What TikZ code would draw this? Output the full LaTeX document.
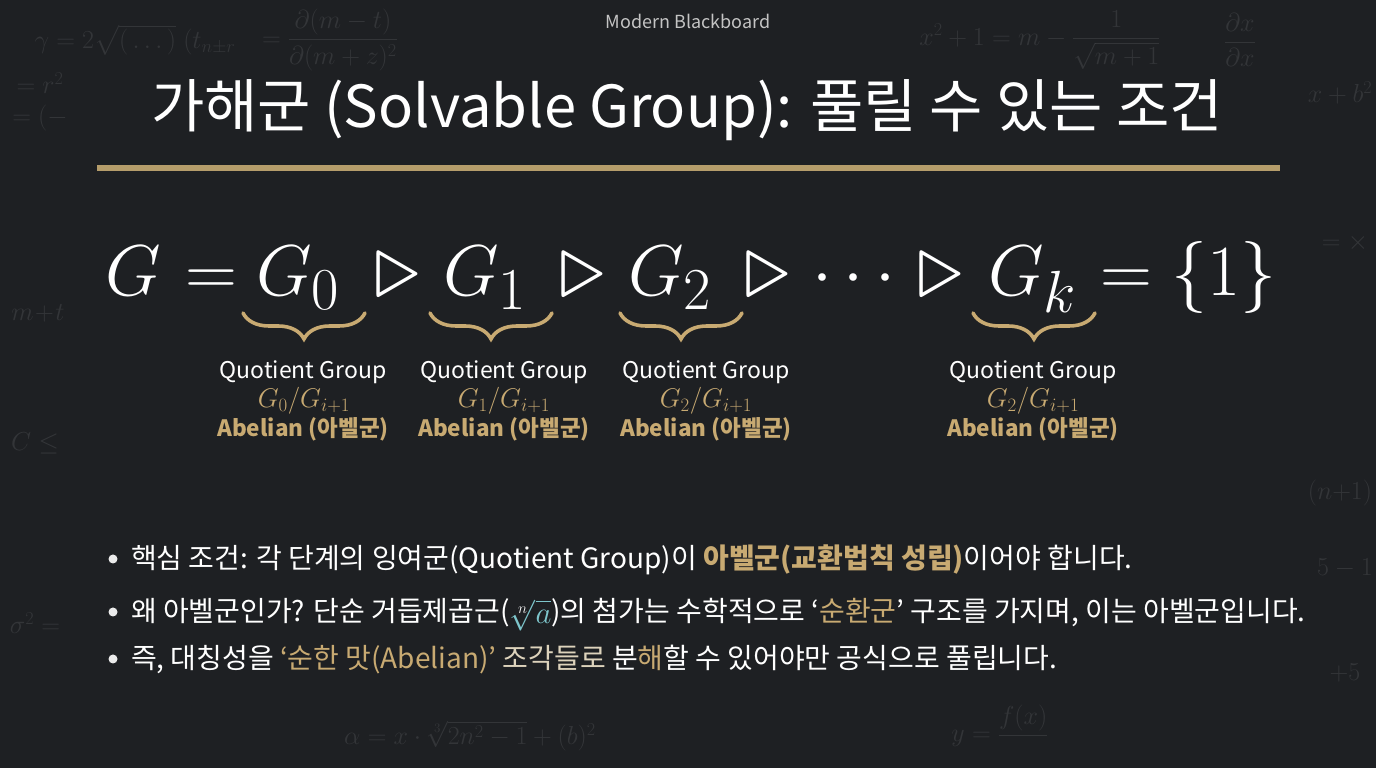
\RequirePackage{fix-cm}
\documentclass[tikz,border=0pt]{standalone}
\usepackage{amsmath}
\usepackage{graphicx}
\usepackage{fontspec}
\setmainfont{Noto Sans CJK KR}
\newfontfamily\kr{Noto Sans CJK KR}
\usetikzlibrary{decorations.pathreplacing,calc}
\definecolor{bg}{HTML}{1E2023}
\definecolor{tan}{HTML}{C8AA72}
\definecolor{gold}{HTML}{B59D6B}
\definecolor{beige}{HTML}{DDD3BC}
\definecolor{tealc}{HTML}{7EC6CC}
\definecolor{hdrgray}{HTML}{C4C4C4}
\definecolor{chalk}{HTML}{8A8C90}
\newcommand{\bigsub}[1]{\scalebox{1.18}{$\scriptstyle #1$}}
\newcommand{\bigtri}{\raisebox{-2pt}{\scalebox{1.3}{$\triangleright$}}}
\begin{document}
\begin{tikzpicture}[x=1pt,y=1pt,
  every node/.style={inner sep=0pt, outer sep=0pt},
  eqpart/.style={anchor=base west, text=white, font=\fontsize{72}{80}\selectfont},
  bracemark/.style={draw=tan, line width=3.6pt, line cap=round, decorate,
    decoration={brace, mirror, amplitude=26pt}},
  qlabel/.style={text=white, font=\kr\fontsize{23}{26}\selectfont},
  mlabel/.style={text=tan, font=\fontsize{27}{30}\selectfont},
  alabel/.style={text=tan, font=\kr\bfseries\fontsize{22.5}{26}\selectfont},
  btext/.style={anchor=base west, text=white, font=\kr\fontsize{28}{32}\selectfont},
  bdot/.style={circle, fill=white!92!black, minimum size=9pt},
  chalkmark/.style={text=chalk, opacity=0.2, font=\fontsize{26}{30}\selectfont},
]
\fill[bg] (0,0) rectangle (1376,768);
\useasboundingbox (0,0) rectangle (1376,768);

% faint chalk texture
\node[chalkmark] (c1) at (135,728) {$\gamma=2\sqrt{(\,\ldots\,)}\;(t_{n\pm r}$};
\node[chalkmark] (c2) at (330,728) {$=\dfrac{\partial(m-t)}{\partial(m+z)^2}$};
\node[chalkmark] (c3) at (1040,728) {$x^2+1=m-\dfrac{1}{\sqrt{m+1}}$};
\node[chalkmark] (c4) at (1240,728) {$\dfrac{\partial x}{\partial x}$};
\node[chalkmark] (c5) at (470,32) {$\alpha=x\cdot\sqrt[3]{2n^2-1}+(b)^2$};
\node[chalkmark] (c6) at (1000,36) {$y=\dfrac{f(x)}{\phantom{xx}}$};
\node[chalkmark] (c7) at (40,685) {$=r^2$};
\node[chalkmark] (c8) at (40,650) {$=(-$};
\node[chalkmark] (c9) at (38,455) {$m\!+\!t$};
\node[chalkmark] (c10) at (35,325) {$C\leq$};
\node[chalkmark] (c11) at (35,145) {$\sigma^2=$};
\node[chalkmark] (c12) at (1345,525) {$=\times$};
\node[chalkmark] (c13) at (1340,275) {$(n{+}1)$};
\node[chalkmark] (c14) at (1345,200) {$5-1$};
\node[chalkmark] (c15) at (1345,95) {$+5$};
\node[chalkmark] (c16) at (1340,675) {$x+b^2$};

% header
\node[text=hdrgray, font=\kr\fontsize{18}{20}\selectfont] (hdr) at (688,747) {Modern Blackboard};

% title
\node[text=white, font=\kr\fontsize{58}{66}\selectfont] (title) at (687,658)
  {가해군 (Solvable Group): 풀릴 수 있는 조건};

% gold underline
\coordinate (ulL) at (97,600);
\coordinate (ulR) at (1280,600);
\draw[gold, line width=5.5pt] (ulL) -- (ulR);

% equation
\node[eqpart] (g)    at (105,472)  {$G$};
\node[eqpart] (eq1)  at (185,472)  {$=$};
\node[eqpart] (g0)   at (256,472)  {$G_{\bigsub{0}}$};
\node[eqpart] (t1)   at (374,472)  {\bigtri};
\node[eqpart] (g1)   at (443,472)  {$G_{\bigsub{1}}$};
\node[eqpart] (t2)   at (559,472)  {\bigtri};
\node[eqpart] (g2)   at (628,472)  {$G_{\bigsub{2}}$};
\node[eqpart] (t3)   at (744,472)  {\bigtri};
\node[eqpart] (dots) at (812,472)  {$\cdots$};
\node[eqpart] (t4)   at (917,472)  {\bigtri};
\node[eqpart] (gk)   at (988,472)  {$G_{\bigsub{k}}$};
\node[eqpart] (eq2)  at (1100,472) {$=$};
\node[eqpart] (one)  at (1171,472) {$\{1\}$};

% braces
\draw[bracemark] (243,455) -- (365,455);
\draw[bracemark] (430,455) -- (552,455);
\draw[bracemark] (620,455) -- (742,455);
\draw[bracemark] (973,455) -- (1095,455);

% labels
\node[qlabel] (q0) at (303,396) {Quotient Group};
\node[mlabel] (m0) at (304,367) {$G_0/G_{i+1}$};
\node[alabel] (a0) at (303,339) {Abelian (아벨군)};

\node[qlabel] (q1) at (504,396) {Quotient Group};
\node[mlabel] (m1) at (504,367) {$G_1/G_{i+1}$};
\node[alabel] (a1) at (504,339) {Abelian (아벨군)};

\node[qlabel] (q2) at (706,396) {Quotient Group};
\node[mlabel] (m2) at (706,367) {$G_2/G_{i+1}$};
\node[alabel] (a2) at (706,339) {Abelian (아벨군)};

\node[qlabel] (q3) at (1033,396) {Quotient Group};
\node[mlabel] (m3) at (1033,367) {$G_2/G_{i+1}$};
\node[alabel] (a3) at (1033,339) {Abelian (아벨군)};

% bullets
\node[bdot] (d1) at (113,209) {};
\node[btext] (l1) at (131,199)
  {핵심 조건: 각 단계의 잉여군(Quotient Group)이 \textcolor{tan}{\bfseries 아벨군(교환법칙 성립)}이어야 합니다.};
\node[bdot] (d2) at (113,156) {};
\node[btext] (l2) at (131,146)
  {왜 아벨군인가? 단순 거듭제곱근(\raisebox{-2pt}{\scalebox{1.1}{\textcolor{tealc}{$\sqrt[\textcolor{white}{n}]{a}$}}})의 첨가는 수학적으로 ‘\textcolor{tan}{순환군}’ 구조를 가지며, 이는 아벨군입니다.};
\node[bdot] (d3) at (113,109) {};
\node[btext] (l3) at (131,99)
  {즉, 대칭성을 \textcolor{tan}{‘순한 맛(Abelian)’} \textcolor{beige}{조각들로} 분\textcolor{tan}{해}할 수 있어야만 공식으로 풀립니다.};
\end{tikzpicture}
\end{document}
